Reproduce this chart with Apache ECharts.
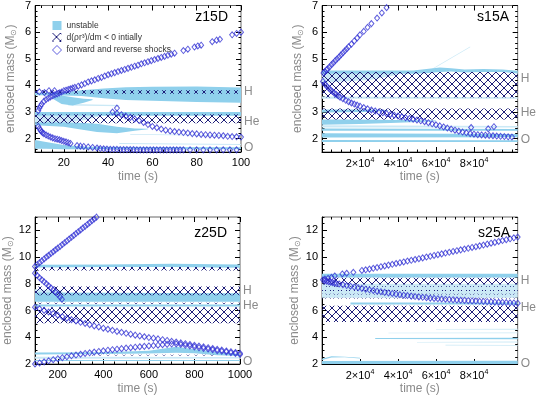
<!DOCTYPE html>
<html>
<head>
<meta charset="utf-8">
<script src="https://cdn.jsdelivr.net/npm/echarts@6/dist/echarts.min.js"></script>
<style>
  html, body { margin: 0; padding: 0; background: #fff; }
  #main { width: 539px; height: 399px; }
</style>
</head>
<body>
<div id="main"></div>
<script>
// ---- tick labels ----
var p1XTicks = [20, 40, 60, 80, 100];
var p3XTicks = [200, 400, 600, 800, 1000];
var sXTicks = [20000, 40000, 60000, 80000];
var lowYTicks = [2, 3, 4, 5, 6, 7];
var highYTicks = [2, 4, 6, 8, 10, 12];
var shellNames = ['H', 'He', 'O'];
var p1ShellMass = [3.75, 2.64, 1.65];
var p2ShellMass = [4.27, 2.96, 1.98];
var p3ShellMass = [7.5, 6.36, 2.2];
var p4ShellMass = [8.2, 6.2, 2.0];

// ---- z15D ----
var p1Forward = [[8.5,3.05],[9,3.15],[9.5,3.23],[10,3.3],[11,3.4],[12,3.47],[13,3.52],[14,3.57],[15,3.61],[16,3.65],[17,3.68],[18,3.72],[19,3.75],[20,3.8],[21,3.82],[22,3.85],[23,3.87],[24,3.9],[25,3.93],[26.5,3.97],[28,4.02],[29.5,4.07],[31,4.13],[32.5,4.17],[34,4.21],[35.5,4.26],[37,4.3],[38.5,4.35],[40,4.4],[41.5,4.44],[43,4.48],[44.5,4.52],[46,4.56],[47.5,4.6],[49,4.64],[50.5,4.68],[52,4.72],[53.5,4.76],[55,4.81],[56.5,4.85],[58,4.89],[59.5,4.93],[61,4.97],[62.5,5.01],[64,5.05],[65.5,5.09],[67,5.13],[68.5,5.17],[70,5.21],[74,5.31],[76,5.36],[79,5.44],[80.5,5.48],[82,5.51],[87,5.64],[89,5.7],[90.5,5.73],[96,5.9],[98,5.95],[100,6.0]];
var p1Stray = [[9,3.76],[11.3,3.73],[13.3,3.8],[15.8,3.8],[44,3.15]];
var p1Reverse = [[8.5,2.46],[9,2.38],[9.5,2.31],[10,2.26],[10.5,2.22],[11,2.19],[12,2.14],[13,2.1],[14,2.06],[15,2.03],[16,2.0],[17,1.98],[18,1.96],[19,1.93],[20,1.9],[21,1.88],[22,1.85],[23,1.82],[26,1.74],[27.5,1.72],[29,1.71],[31,1.69],[33,1.67],[35,1.65],[36.5,1.63],[38,1.62],[39.5,1.61],[41,1.6],[42.5,1.6],[44,1.6],[45.5,1.59],[47,1.59],[48.5,1.59],[50,1.59],[51.5,1.59],[53,1.58],[54.5,1.58],[56,1.58],[57.5,1.58],[59,1.58],[60.5,1.58],[62,1.58],[63.5,1.58],[65,1.58],[66.5,1.58],[68,1.58],[69.5,1.58],[71,1.58],[72.5,1.58],[74,1.58],[77,1.58],[80,1.58],[83,1.58],[86,1.58],[89,1.58],[92,1.58],[95,1.58],[98,1.58]];
var p1Middle = [[42,3.0],[44,2.95],[46,2.9],[48,2.85],[50,2.8],[52,2.74],[54,2.68],[56,2.61],[58,2.53],[60,2.46],[62,2.41],[64,2.36],[66,2.32],[68,2.29],[70,2.27],[72,2.25],[74,2.23],[76,2.21],[78,2.19],[80,2.18],[82,2.16],[84,2.15],[86,2.14],[88,2.13],[90,2.12],[92,2.11],[94,2.09],[96,2.08],[98,2.07],[100,2.06]];
var p1Unstable = [
  [[7,3.63,3.72],[20,3.62,3.74],[28,3.6,3.82],[38,3.52,3.88],[48,3.45,3.93],[60,3.42,3.95],[80,3.38,3.96],[100,3.35,3.92]],
  [[15,3.5,3.6],[19,3.3,3.62],[24,3.25,3.56],[29,3.35,3.5],[33,3.45,3.48]],
  [[7,2.86,3.0],[100,2.86,3.0]],
  [[7,2.5,2.62],[20,2.45,2.62],[27,2.35,2.6],[35,2.25,2.56],[44,2.2,2.45],[52,2.3,2.38],[58,2.35,2.37]],
  [[7,1.62,1.95],[12,1.62,1.88],[20,1.6,1.76],[30,1.6,1.7],[100,1.6,1.68]]
];
var p1Pale = [
  [[7,2.62,2.86],[22,2.62,2.86],[30,2.7,2.86],[36,2.84,2.86]],
  [[45,1.8,1.84],[100,1.76,1.8]],
  [[50,2.15,2.18],[100,2.1,2.13]],
  [[22,3.25,3.3],[45,3.22,3.26]]
];
var p1Hatch = [[7,100,3.69,3.82],[7,100,2.58,2.92]];

// ---- s15A ----
var p2Forward = [[800,4.47],[1500,4.52],[2300,4.58],[3000,4.62],[4000,4.7],[5000,4.78],[6000,4.85],[7000,4.93],[8000,5.0],[9000,5.07],[10000,5.15],[11000,5.22],[12000,5.3],[13000,5.37],[14000,5.45],[15500,5.55],[17000,5.67],[18500,5.78],[20000,5.9],[22000,6.03],[24000,6.18],[26000,6.32],[29000,6.53],[31500,6.72],[34000,6.92]];
var p2Reverse = [[500,4.15],[1500,4.05],[2500,3.97],[3500,3.9],[4500,3.83],[5500,3.77],[6500,3.71],[7500,3.66],[8500,3.61],[9500,3.56],[11000,3.5],[12500,3.44],[14000,3.39],[15500,3.34],[17000,3.3],[18500,3.26],[20000,3.22],[22000,3.17],[24000,3.12],[26000,3.08],[28000,3.04],[30000,3.0],[32000,2.97],[34000,2.94],[36000,2.91],[38000,2.88],[40000,2.85],[42000,2.82],[44000,2.79],[46000,2.76],[48000,2.73],[50000,2.7],[52000,2.67],[54000,2.64],[56000,2.6],[58000,2.56],[60000,2.52],[62000,2.48],[64000,2.44],[66000,2.4],[68000,2.36],[70000,2.32],[72000,2.28],[74000,2.25],[76000,2.22],[78000,2.19],[80000,2.17],[82000,2.15],[84000,2.14],[86000,2.13],[88000,2.12],[90000,2.11],[92000,2.1],[94000,2.09],[96000,2.08],[98000,2.07],[100000,2.06]];
var p2Stray = [[78500,2.42],[87500,2.37],[90500,2.45]];
var p2Unstable = [
  [[0,4.44,4.56],[48000,4.44,4.56],[55000,4.46,4.62],[62000,4.5,4.67],[68000,4.52,4.64],[75000,4.48,4.6],[85000,4.5,4.62],[95000,4.5,4.6],[103000,4.45,4.55]],
  [[0,2.98,3.1],[25000,3.0,3.1],[35000,3.05,3.08]],
  [[0,2.52,2.72],[20000,2.55,2.72],[40000,2.6,2.7],[60000,2.65,2.68]],
  [[0,2.3,2.38],[103000,2.3,2.36]],
  [[0,2.04,2.2],[103000,2.05,2.18]],
  [[0,1.88,1.95],[103000,1.88,1.94]]
];
var p2Pale = [
  [[0,4.1,4.45],[25000,4.2,4.45],[40000,4.4,4.45]],
  [[0,3.5,3.58],[103000,3.5,3.56]],
  [[58000,4.6,4.63],[78000,5.43,5.46]],
  [[0,2.42,2.5],[103000,2.42,2.48]]
];
var p2Hatch = [[0,103000,3.55,4.5],[0,103000,2.72,3.13]];

// ---- z25D ----
var p3Forward = [[100,9.3],[110,9.45],[120,9.58],[130,9.72],[140,9.86],[150,10.0],[160,10.13],[170,10.27],[180,10.4],[190,10.54],[200,10.67],[210,10.8],[220,10.94],[230,11.08],[240,11.21],[250,11.35],[260,11.48],[270,11.62],[280,11.76],[290,11.9],[300,12.03],[310,12.17],[320,12.3],[330,12.44],[340,12.58],[350,12.72],[360,12.85],[370,12.99]];
var p3Reverse = [[100,8.8],[110,8.62],[120,8.45],[130,8.3],[140,8.15],[150,8.0],[160,7.85],[170,7.7],[180,7.55],[190,7.38],[200,7.2],[210,7.02],[218,6.85]];
var p3Inner = [[100,6.25],[120,6.13],[140,6.01],[160,5.89],[180,5.77],[200,5.65],[220,5.54],[240,5.43],[260,5.32],[280,5.22],[300,5.12],[320,5.03],[340,4.94],[360,4.85],[380,4.77],[400,4.68],[420,4.6],[440,4.52],[460,4.44],[480,4.37],[500,4.3],[520,4.23],[540,4.16],[560,4.1],[580,4.04],[600,3.98],[620,3.93],[640,3.88],[660,3.82],[680,3.76],[700,3.7],[720,3.64],[740,3.58],[760,3.52],[780,3.46],[800,3.4],[820,3.34],[840,3.28],[860,3.22],[880,3.16],[900,3.1],[920,3.04],[940,2.98],[960,2.92],[980,2.86],[1000,2.8]];
var p3Outer = [[100,2.0],[120,2.08],[140,2.16],[160,2.24],[180,2.32],[200,2.4],[220,2.47],[240,2.54],[260,2.61],[280,2.67],[300,2.73],[320,2.79],[340,2.84],[360,2.89],[380,2.94],[400,2.99],[420,3.03],[440,3.07],[460,3.11],[480,3.15],[500,3.19],[520,3.22],[540,3.26],[560,3.29],[580,3.32],[600,3.35],[620,3.38],[640,3.41],[660,3.44],[680,3.47],[700,3.49],[720,3.5],[740,3.46],[760,3.4],[780,3.34],[800,3.28],[820,3.22],[840,3.17],[860,3.12],[880,3.06],[900,3.0],[920,2.95],[940,2.9],[960,2.84],[980,2.78],[1000,2.72]];
var p3Unstable = [
  [[100,9.22,9.42],[400,9.25,9.45],[700,9.25,9.5],[1000,9.2,9.45]],
  [[100,6.65,7.35],[1000,6.65,7.3]],
  [[100,6.3,6.45],[1000,6.3,6.45]],
  [[100,2.72,2.86],[400,2.74,2.88],[600,2.78,3.0],[720,2.85,3.3],[800,2.8,3.1],[900,2.65,2.9],[1000,2.6,2.75]],
  [[100,2.22,2.3],[1000,2.22,2.3]]
];
var p3Pale = [
  [[100,2.4,2.55],[1000,2.42,2.52]],
  [[100,7.3,7.6],[220,7.3,7.5]]
];
var p3Hatch = [[100,1000,9.0,9.25],[100,1000,7.15,7.8],[100,1000,6.5,6.58],[100,1000,5.05,6.25],[350,900,2.64,2.7]];

// ---- s25A ----
var p4Forward = [[1500,8.36],[3200,8.41],[5000,8.49],[6700,8.59],[10700,8.74],[13000,8.79],[16500,8.86],[21000,9.0],[23000,9.05],[25000,9.1],[27000,9.16],[29000,9.22],[31000,9.28],[33000,9.34],[35000,9.4],[37000,9.46],[39000,9.52],[41000,9.58],[43000,9.64],[45000,9.7],[47000,9.76],[49000,9.82],[51000,9.88],[53000,9.94],[55000,10.0],[57000,10.06],[59000,10.12],[61000,10.18],[63000,10.24],[65000,10.3],[67000,10.36],[69000,10.42],[71000,10.48],[73000,10.54],[75000,10.6],[77000,10.66],[79000,10.72],[81000,10.78],[83000,10.84],[85000,10.9],[87000,10.97],[89000,11.04],[91000,11.1],[93000,11.17],[95000,11.24],[97000,11.3],[99000,11.37],[101000,11.44],[103000,11.5]];
var p4Reverse = [[500,8.3],[1500,8.24],[2500,8.2],[3500,8.16],[4500,8.12],[5500,8.09],[6500,8.06],[7500,8.03],[9000,7.99],[11000,7.93],[13000,7.87],[15000,7.82],[17000,7.76],[19000,7.71],[21000,7.66],[23000,7.6],[25000,7.55],[27000,7.5],[29000,7.45],[31000,7.41],[33000,7.36],[35000,7.32],[37000,7.28],[39000,7.23],[41000,7.19],[43000,7.15],[45000,7.12],[47000,7.08],[49000,7.05],[51000,7.02],[53000,6.99],[55000,6.96],[57000,6.93],[59000,6.91],[61000,6.89],[63000,6.87],[65000,6.85],[67000,6.83],[69000,6.81],[71000,6.79],[73000,6.77],[75000,6.76],[77000,6.74],[79000,6.72],[81000,6.71],[83000,6.69],[85000,6.68],[87000,6.66],[89000,6.65],[91000,6.63],[93000,6.62],[95000,6.61],[97000,6.6],[99000,6.58],[101000,6.57],[103000,6.55]];
var p4Unstable = [
  [[0,8.48,8.75],[103000,8.48,8.75]],
  [[15000,6.45,6.6],[103000,6.45,6.6]],
  [[0,2.0,2.22],[103000,2.0,2.25]],
  [[0,2.3,2.4],[5000,2.48,2.58],[12000,2.5,2.55],[20000,2.42,2.46]],
  [[28000,3.88,3.94],[103000,3.86,3.96]]
];
var p4Pale = [
  [[0,6.95,8.0],[103000,6.95,8.0]],
  [[50000,3.6,3.65],[103000,3.6,3.68]],
  [[65000,3.38,3.44],[103000,3.37,3.43]],
  [[35000,4.3,4.34],[103000,4.3,4.36]],
  [[60000,4.58,4.62],[103000,4.56,4.64]]
];
var p4Hatch = [[0,103000,7.95,8.45],[0,103000,7.76,7.82],[0,103000,7.47,7.53],[0,103000,7.2,7.26],[0,103000,6.9,6.96],[0,103000,5.15,6.35]];

// ---- styling ----
var BLUE = '#3434d4';
var SKY = '#8fd0ec';
var SKY_PALE = '#cbe9f6';
var GREY = '#8a8a8a';
var FONT = "'Liberation Sans', Arial, sans-serif";
var UNSTABLE = 'unstable';
var HATCHED = 'd(ρr³)/dm < 0 intially';
var SHOCKS = 'forward and reverse shocks';

function makeHatch() {
  var c = document.createElement('canvas');
  c.width = 8; c.height = 8;
  var g = c.getContext('2d');
  g.strokeStyle = '#1e1e78';
  g.lineWidth = 1;
  g.beginPath();
  g.moveTo(0, 0); g.lineTo(8, 8);
  g.moveTo(8, 0); g.lineTo(0, 8);
  g.stroke();
  return { image: c, repeat: 'repeat' };
}
var hatchFill = makeHatch();

function steps(a, b, s) {
  var out = [];
  for (var v = Math.ceil(a / s - 1e-9) * s; v <= b + 1e-9; v += s) out.push(+v.toFixed(6));
  return out;
}

var panels = [
  { grid: {left: 35, top: 1, width: 206, height: 151}, title: 'z15D',
    xMin: 7, xMax: 100, xMajor: p1XTicks, xMinor: 5, xFmt: function (v) { return String(v); },
    yMin: 1.5, yMax: 7, yMajor: lowYTicks, yMinor: 0.2, shell: p1ShellMass,
    unstable: p1Unstable, pale: p1Pale, hatch: p1Hatch, shocks: [p1Forward, p1Stray, p1Reverse, p1Middle] },
  { grid: {left: 322, top: 1, width: 200, height: 151}, title: 's15A',
    xMin: 0, xMax: 103000, xMajor: sXTicks, xMinor: 5000, xFmt: function (v) { return (v / 10000) + '×10{sup|4}'; },
    yMin: 1.5, yMax: 7, yMajor: lowYTicks, yMinor: 0.2, shell: p2ShellMass,
    unstable: p2Unstable, pale: p2Pale, hatch: p2Hatch, shocks: [p2Forward, p2Reverse, p2Stray] },
  { grid: {left: 35, top: 217, width: 205, height: 147}, title: 'z25D',
    xMin: 100, xMax: 1000, xMajor: p3XTicks, xMinor: 50, xFmt: function (v) { return String(v); },
    yMin: 2, yMax: 13, yMajor: highYTicks, yMinor: 0.5, shell: p3ShellMass,
    unstable: p3Unstable, pale: p3Pale, hatch: p3Hatch, shocks: [p3Forward, p3Reverse, p3Inner, p3Outer] },
  { grid: {left: 322, top: 217, width: 201, height: 147}, title: 's25A',
    xMin: 0, xMax: 103000, xMajor: sXTicks, xMinor: 5000, xFmt: function (v) { return (v / 10000) + '×10{sup|4}'; },
    yMin: 2, yMax: 13, yMajor: highYTicks, yMinor: 0.5, shell: p4ShellMass,
    unstable: p4Unstable, pale: p4Pale, hatch: p4Hatch, shocks: [p4Forward, p4Reverse] }
];

var grids = [], xAxes = [], yAxes = [], series = [], titles = [];

function tickAxis(base, values, len) {
  return Object.assign({
    type: 'value', splitLine: {show: false},
    axisLine: {show: false, onZero: false},
    axisTick: {inside: true, length: len, customValues: values, lineStyle: {color: '#000', width: 1}},
    axisLabel: {show: false}
  }, base);
}

panels.forEach(function (p, gi) {
  grids.push(Object.assign({show: true, borderColor: '#666', borderWidth: 1, backgroundColor: 'transparent'}, p.grid));
  var xb = {gridIndex: gi, min: p.xMin, max: p.xMax};
  var yb = {gridIndex: gi, min: p.yMin, max: p.yMax};
  var xMinor = steps(p.xMin, p.xMax, p.xMinor);
  var yMinor = steps(p.yMin, p.yMax, p.yMinor);

  // main x axis with labels
  xAxes.push(Object.assign({}, xb, {
    type: 'value', position: 'bottom', splitLine: {show: false},
    name: 'time (s)', nameLocation: 'middle', nameGap: 19,
    nameTextStyle: {color: GREY, fontSize: 12, fontFamily: FONT},
    axisLine: {onZero: false, lineStyle: {color: '#000', width: 1}},
    axisTick: {inside: true, length: 5, customValues: p.xMajor, lineStyle: {color: '#000'}},
    axisLabel: {customValues: p.xMajor, formatter: p.xFmt, color: '#000', fontSize: 11, margin: 5, fontFamily: FONT,
      rich: {sup: {fontSize: 7, color: '#000', padding: [0, 0, 7, 0], fontFamily: FONT}}}
  }));
  xAxes.push(tickAxis(Object.assign({position: 'bottom'}, xb), xMinor, 2.5));
  xAxes.push(tickAxis(Object.assign({position: 'top'}, xb), p.xMajor, 5));
  xAxes.push(tickAxis(Object.assign({position: 'top'}, xb), xMinor, 2.5));

  // main y axis with labels
  yAxes.push(Object.assign({}, yb, {
    type: 'value', position: 'left', splitLine: {show: false},
    name: 'enclosed mass (M{sub|⊙})', nameLocation: 'middle', nameGap: 17,
    nameTextStyle: {color: GREY, fontSize: 12, fontFamily: FONT,
      rich: {sub: {fontSize: 8, color: GREY, padding: [6, 0, 0, 0]}}},
    axisLine: {onZero: false, lineStyle: {color: '#000', width: 1}},
    axisTick: {inside: true, length: 5, customValues: p.yMajor, lineStyle: {color: '#000'}},
    axisLabel: {customValues: p.yMajor, color: '#000', fontSize: 11, margin: 4, fontFamily: FONT}
  }));
  yAxes.push(tickAxis(Object.assign({position: 'left'}, yb), yMinor, 2.5));
  yAxes.push(tickAxis(Object.assign({position: 'right'}, yb), p.yMajor, 5));
  yAxes.push(tickAxis(Object.assign({position: 'right'}, yb), yMinor, 2.5));
  // shell labels on the right
  yAxes.push(Object.assign({}, yb, {
    type: 'value', position: 'right', splitLine: {show: false},
    axisLine: {show: false, onZero: false}, axisTick: {show: false},
    axisLabel: {customValues: p.shell, color: GREY, fontSize: 12, margin: 3, fontFamily: FONT,
      formatter: function (v) {
        var best = 0;
        p.shell.forEach(function (m, i) { if (Math.abs(m - v) < Math.abs(p.shell[best] - v)) best = i; });
        return shellNames[best];
      }}
  }));

  var xi = gi * 4, yi = gi * 5;

  function bandSeries(name, bands, color) {
    return {
      type: 'custom', name: name, xAxisIndex: xi, yAxisIndex: yi, silent: true, z: 1,
      itemStyle: {color: color},
      data: bands.map(function (b) { return [b[0][0], b[0][1]]; }),
      renderItem: function (params, api) {
        var b = bands[params.dataIndex];
        var pts = b.map(function (q) { return api.coord([q[0], q[2]]); });
        b.slice().reverse().forEach(function (q) { pts.push(api.coord([q[0], q[1]])); });
        return {type: 'polygon', shape: {points: pts}, style: {fill: color}};
      }
    };
  }
  series.push(bandSeries('pale', p.pale, SKY_PALE));
  series.push(bandSeries(UNSTABLE, p.unstable, SKY));
  series.push({
    type: 'custom', name: HATCHED, xAxisIndex: xi, yAxisIndex: yi, silent: true, z: 2,
    itemStyle: {color: hatchFill},
    data: p.hatch.map(function (h) { return [h[0], h[2]]; }),
    renderItem: function (params, api) {
      var h = p.hatch[params.dataIndex];
      var a = api.coord([h[0], h[3]]);
      var b = api.coord([h[1], h[2]]);
      return {type: 'rect', shape: {x: a[0], y: a[1], width: b[0] - a[0], height: b[1] - a[1]}, style: {fill: hatchFill}};
    }
  });
  series.push({
    type: 'scatter', name: SHOCKS, xAxisIndex: xi, yAxisIndex: yi, z: 3, silent: true,
    symbol: 'diamond', symbolSize: [5, 6],
    itemStyle: {color: 'rgba(255,255,255,0)', borderColor: BLUE, borderWidth: 1},
    data: [].concat.apply([], p.shocks)
  });

  titles.push({
    text: p.title, right: 539 - (p.grid.left + p.grid.width) + 8, top: p.grid.top + 4,
    textStyle: {color: '#000', fontSize: 14, fontWeight: 'normal', fontFamily: FONT}
  });
});

var chart = echarts.init(document.getElementById('main'));
chart.setOption({
  animation: false,
  textStyle: {fontFamily: FONT},
  title: titles,
  grid: grids,
  xAxis: xAxes,
  yAxis: yAxes,
  legend: {
    left: 47, top: 16, orient: 'vertical', selectedMode: false,
    itemWidth: 9, itemHeight: 9, itemGap: 3,
    textStyle: {fontSize: 8.5, color: '#333', fontFamily: FONT},
    data: [
      {name: UNSTABLE, icon: 'rect'},
      {name: HATCHED, icon: 'rect'},
      {name: SHOCKS, icon: 'diamond', itemStyle: {color: 'rgba(255,255,255,0)', borderColor: BLUE, borderWidth: 1}}
    ]
  },
  series: series
});
</script>
</body>
</html>
